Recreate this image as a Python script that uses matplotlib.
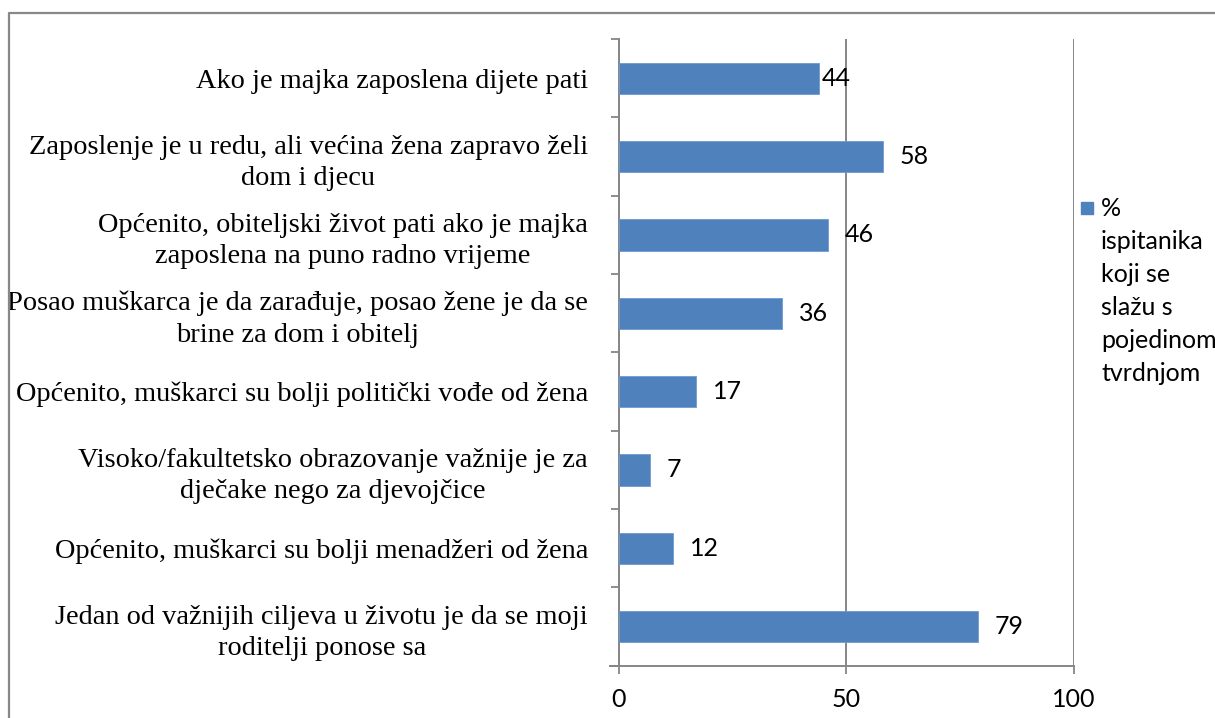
import matplotlib
matplotlib.use("Agg")
import matplotlib.pyplot as plt
from matplotlib.lines import Line2D
from matplotlib.patches import Rectangle

categories = [
    "Ako je majka zaposlena dijete pati",
    "Zaposlenje je u redu, ali većina žena zapravo želi\ndom i djecu",
    "Općenito, obiteljski život pati ako je majka\nzaposlena na puno radno vrijeme",
    "Posao muškarca je da zarađuje, posao žene je da se\nbrine za dom i obitelj",
    "Općenito, muškarci su bolji politički vođe od žena",
    "Visoko/fakultetsko obrazovanje važnije je za\ndječake nego za djevojčice",
    "Općenito, muškarci su bolji menadžeri od žena",
    "Jedan od važnijih ciljeva u životu je da se moji\nroditelji ponose sa",
]
values = [44, 58, 46, 36, 17, 7, 12, 79]
x_ticks = [0, 50, 100]
legend_label = "%\nispitanika\nkoji se\nslažu s\npojedinom\ntvrdnjom"

W, H = 1215, 718
fig = plt.figure(figsize=(W / 100, H / 100), dpi=100)
ax = fig.add_axes([618.5 / W, 1 - 665.7 / H, (1074 - 618.5) / W, (665.7 - 39) / H])

grey = "#868686"
bar_color = "#4F81BD"
n = len(categories)
ypos = list(range(n))
ax.barh(ypos, values, height=0.4, color=bar_color, edgecolor="#6F9AD0", linewidth=0.6, zorder=3)
ax.set_ylim(n - 0.5, -0.5)
ax.set_xlim(0, 100)

# value labels
for i, v in enumerate(values):
    off = 2 if v == 44 else 12
    ax.annotate(str(v), (v, i), xytext=(off, 0), textcoords="offset points",
                va="center", ha="left", fontsize=18, family="Lato", color="black", zorder=4)

# y ticks at category boundaries (outward), labels at centers
ax.set_yticks([i - 0.5 for i in range(n + 1)])
ax.set_yticklabels([])
ax.set_yticks(ypos, minor=True)
ax.set_yticklabels(categories, minor=True, family="Liberation Serif", fontsize=20.4,
                   ha="right", multialignment="center", linespacing=1.32)
ax.tick_params(axis="y", which="major", direction="out", length=6, width=1.3, color=grey)
ax.tick_params(axis="y", which="minor", length=0, pad=22)

ax.set_xticks(x_ticks)
ax.set_xticklabels([str(t) for t in x_ticks], family="Lato", fontsize=18)
ax.tick_params(axis="x", direction="out", length=6, width=1.3, color=grey, pad=10)

ax.xaxis.grid(True, color=grey, linewidth=1.4, zorder=0)
ax.set_axisbelow(True)
for s in ["top", "right"]:
    ax.spines[s].set_visible(False)
for s in ["left", "bottom"]:
    ax.spines[s].set_color(grey)
    ax.spines[s].set_linewidth(1.4)
ax.spines["bottom"].set_bounds(-1.8, 100)

# legend (manual, clipped by figure edge)
fig.patches.append(Rectangle((1081 / W, 1 - 214 / H), 12 / W, 12 / H,
                             transform=fig.transFigure, color=bar_color))
fig.text(1101 / W, 1 - 197 / H, legend_label, family="Lato", fontsize=18,
         va="top", ha="left", linespacing=1.53)

# outer border
fig.add_artist(Line2D([8.5 / W, 8.5 / W, 1.0], [0, 1 - 12.5 / H, 1 - 12.5 / H],
                      transform=fig.transFigure, color="#888888", linewidth=1.6))

fig.savefig("out.png", dpi=100)
